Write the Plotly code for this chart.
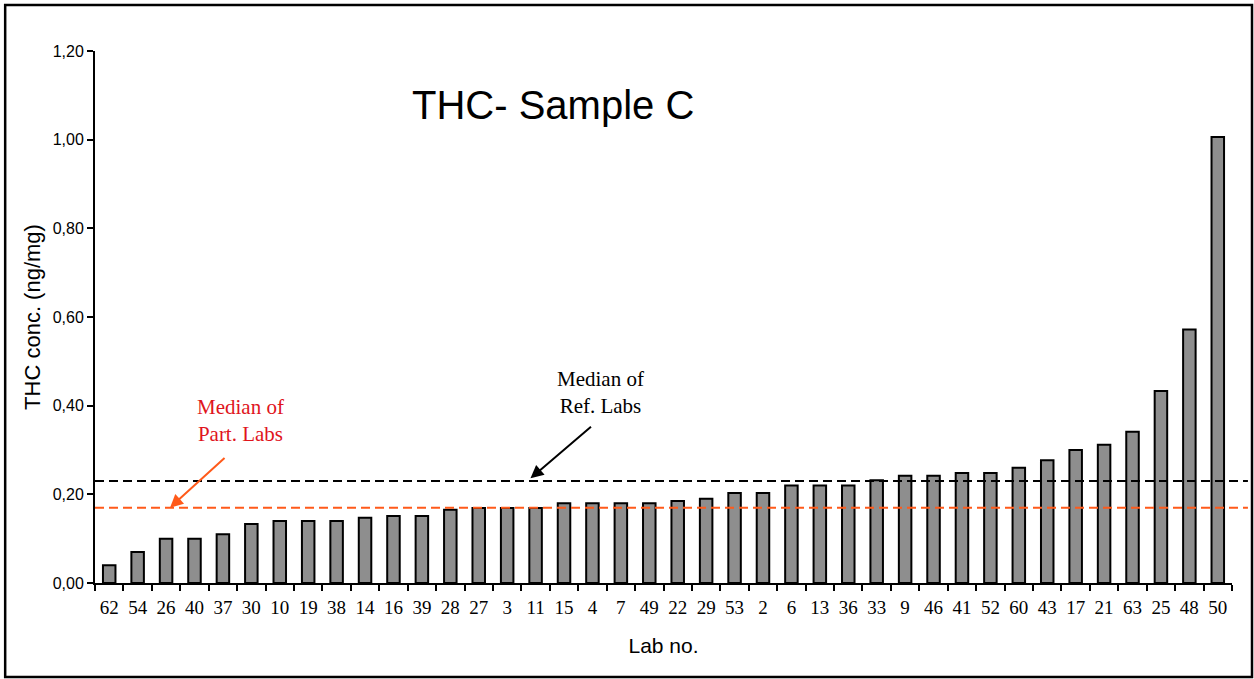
import plotly.graph_objects as go

# Data
labs = ["62", "54", "26", "40", "37", "30", "10", "19", "38", "14", "16", "39", "28", "27",
        "3", "11", "15", "4", "7", "49", "22", "29", "53", "2", "6", "13", "36", "33",
        "9", "46", "41", "52", "60", "43", "17", "21", "63", "25", "48", "50"]
thc = [0.04, 0.07, 0.10, 0.10, 0.11, 0.133, 0.14, 0.14, 0.14, 0.147, 0.151, 0.151, 0.165, 0.169,
       0.169, 0.169, 0.18, 0.18, 0.18, 0.18, 0.185, 0.19, 0.203, 0.203, 0.22, 0.22, 0.22, 0.232,
       0.242, 0.242, 0.248, 0.248, 0.26, 0.277, 0.30, 0.312, 0.341, 0.433, 0.572, 1.006]
median_ref = 0.23
median_part = 0.17
yticks = [0, 0.2, 0.4, 0.6, 0.8, 1.0, 1.2]

serif = 'Liberation Serif, Times New Roman, serif'
sans = 'Liberation Sans, Arial, sans-serif'
orange = '#ff5a1a'

fig = go.Figure()

fig.add_trace(go.Bar(
    x=labs,
    y=thc,
    width=0.44,
    marker=dict(color='#8e8e8e', line=dict(color='black', width=2)),
    hovertemplate='Lab %{x}: %{y:.3f}<extra></extra>'
))

# median lines (they run a bit past the plot area on the right)
fig.add_shape(type='line', xref='paper', yref='y', x0=0, x1=1.014, y0=median_ref, y1=median_ref,
              line=dict(color='black', width=2, dash='9px,5px'))
fig.add_shape(type='line', xref='paper', yref='y', x0=0, x1=1.014, y0=median_part, y1=median_part,
              line=dict(color=orange, width=2, dash='9px,5px'))

# frame round the whole chart
fig.add_shape(type='rect', xref='paper', yref='paper', x0=-0.079, x1=1.0176, y0=-0.1767, y1=1.0865,
              line=dict(color='black', width=2.5))

fig.add_annotation(text='THC- Sample C', xref='paper', yref='paper', x=0.403, y=0.898,
                   xanchor='center', yanchor='middle',
                   showarrow=False, font=dict(family=sans, size=40, color='black'))

fig.add_annotation(text='Median of<br>Part. Labs', xref='paper', yref='paper', x=0.128, y=0.306,
                   xanchor='center', yanchor='middle',
                   showarrow=False, font=dict(family=serif, size=21, color='#e0141c'))
fig.add_annotation(text='Median of<br>Ref. Labs', xref='paper', yref='paper', x=0.445, y=0.359,
                   xanchor='center', yanchor='middle',
                   showarrow=False, font=dict(family=serif, size=21, color='black'))

fig.add_annotation(text='', xref='paper', yref='y', x=0.066, y=median_part,
                   ax=56, ay=-51, showarrow=True, arrowhead=2, arrowsize=1.3,
                   arrowwidth=2, arrowcolor=orange)
fig.add_annotation(text='', xref='paper', yref='y', x=0.383, y=median_ref + 0.006,
                   ax=62, ay=-53, showarrow=True, arrowhead=2, arrowsize=1.3,
                   arrowwidth=2, arrowcolor='black')

fig.update_layout(
    width=1254, height=679,
    margin=dict(l=95, r=22, t=51, b=96),
    paper_bgcolor='white', plot_bgcolor='white',
    separators=',.',
    showlegend=False,
    xaxis=dict(
        title=dict(text='Lab no.', font=dict(family=sans, size=21, color='black'), standoff=22),
        tickfont=dict(family=serif, size=19, color='black'),
        showline=True, linecolor='black', linewidth=2,
        ticks='outside', tickson='boundaries', ticklen=6, tickcolor='black', tickwidth=2,
        ticklabelstandoff=6,
        showgrid=False, tickangle=0
    ),
    yaxis=dict(
        title=dict(text='THC conc. (ng/mg)', font=dict(family=sans, size=22, color='black'), standoff=6),
        range=[0, 1.2], tickvals=yticks, tickformat='.2f',
        tickfont=dict(family=sans, size=16, color='black'),
        showline=True, linecolor='black', linewidth=2,
        ticks='outside', ticklen=6, tickcolor='black', tickwidth=2,
        showgrid=False, zeroline=False
    )
)

# the page body has a default 8px margin; drop it so the figure sits at the window corner
fig.write_html('out.html', config={'displayModeBar': False},
               post_script="document.body.style.margin='0';")
